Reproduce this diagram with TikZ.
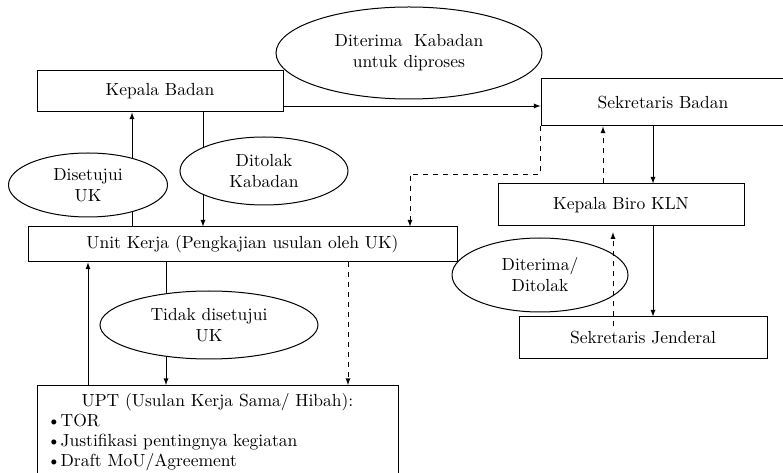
\documentclass[tikz,border=0pt]{standalone}
\usepackage{tikz}
\usetikzlibrary{arrows,shapes,positioning,calc}
\pgfdeclarelayer{bg}
\pgfsetlayers{bg,main}

\begin{document}
\begin{tikzpicture}[x = 0.6pt, y = -0.6pt, >=latex, line width = 0.6pt,
  font = \fontsize{10.5}{12.6}\selectfont,
  box/.style = {draw, rectangle, inner sep = 0pt},
  oval/.style = {draw, ellipse, fill = white, inner sep = 0pt, align = center}]
\useasboundingbox (0,0) rectangle (783,473);
\clip (0,0) rectangle (783,473);
% boxes
\node[box, minimum width = 147.6pt, minimum height = 24.6pt] (kb) at (160,91.5) {Kepala Badan};
\node[box, minimum width = 146.4pt, minimum height = 28.2pt] (sb) at (663,102.5) {Sekretaris Badan};
\node[box, minimum width = 147.6pt, minimum height = 25.2pt] (biro) at (621,205) {Kepala Biro KLN};
\node[box, minimum width = 257.4pt, minimum height = 21pt] (uk) at (242.5,244.5) {Unit Kerja (Pengkajian usulan oleh UK)};
\node[box, minimum width = 148.8pt, minimum height = 25.2pt] (sj) at (643,338) {Sekretaris Jenderal};
\node[box, anchor = north, text width = 204.6pt, inner xsep = 6pt, inner ysep = 5pt,
  align = left, font = \fontsize{10.5}{12}\selectfont] (upt) at (217.5,385)
  {\makebox[\linewidth]{UPT (Usulan Kerja Sama/ Hibah):}\\
   \textbullet TOR\\
   \textbullet Justifikasi pentingnya kegiatan\\
   \textbullet Draft MoU/Agreement\\
   \mbox{}};
% ovals
\node[oval, minimum width = 159.6pt, minimum height = 55.2pt] (terima) at (409,53) {Diterima\ \ Kabadan\\untuk diproses};
\node[oval, minimum width = 95.4pt, minimum height = 38.4pt] (setuju) at (88,185) {Disetujui\\UK};
\node[oval, minimum width = 100.8pt, minimum height = 40.8pt] (tolak) at (264,171) {Ditolak\\Kabadan};
\node[oval, minimum width = 130.8pt, minimum height = 40.8pt] (tidak) at (209,325) {Tidak disetujui\\UK};
\node[oval, minimum width = 105.6pt, minimum height = 44.4pt] (hasil) at (540,275) {Diterima/\\Ditolak};
% connectors
\begin{pgfonlayer}{bg}
\draw[->] (kb.east |- 0,106) -- (sb.west |- 0,106);
\draw[->] (uk.north -| 132,0) -- (kb.south -| 132,0);
\draw[->] (kb.south -| 203,0) -- (uk.north -| 203,0);
\draw[->] (uk.south -| 166,0) -- (upt.north -| 166,0);
\end{pgfonlayer}
\draw[->] (upt.north -| 88,0) -- (uk.south -| 88,0);
\draw[->, dashed] (uk.south -| 348,0) -- (upt.north -| 348,0);
\draw[->] (sb.south -| 653,0) -- (biro.north -| 653,0);
\draw[->, dashed] (biro.north -| 603,0) -- (sb.south -| 603,0);
\draw[->, dashed] (sb.south west) -- (sb.south west |- 0,174) -| (uk.north -| 410,0);
\draw[->] (biro.south -| 653,0) -- (sj.north -| 653,0);
\draw[->, dashed, shorten <= -6pt, shorten >= 3.5pt] (sj.north -| 613,0) -- (biro.south -| 613,0);
\end{tikzpicture}
\end{document}
